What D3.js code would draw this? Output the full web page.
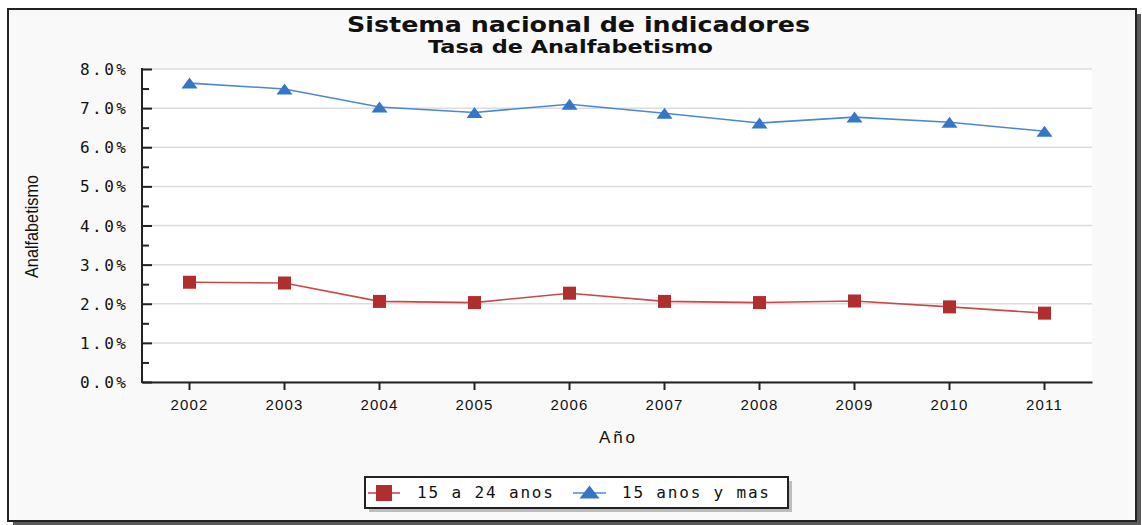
<!DOCTYPE html>
<html><head><meta charset="utf-8">
<script src="https://cdn.jsdelivr.net/npm/d3@7"></script>
<style>html,body{margin:0;padding:0;background:#fff;}svg{display:block;}</style>
</head><body>
<svg id="chart" width="1142" height="525"></svg>
<script>
const years = ["2002","2003","2004","2005","2006","2007","2008","2009","2010","2011"];
const youth = [2.55, 2.53, 2.06, 2.03, 2.27, 2.06, 2.03, 2.07, 1.92, 1.76];
const adults = [7.64, 7.49, 7.03, 6.89, 7.10, 6.87, 6.62, 6.77, 6.64, 6.41];
const yTicks = [0,1,2,3,4,5,6,7,8];
const seriesNames = ["15 a 24 anos", "15 anos y mas"];

const svg = d3.select("#chart");
const L = 142, R = 1092, T = 69, B = 382;

// frame + shadow
svg.append("rect").attr("x",13).attr("y",14).attr("width",1128).attr("height",512).attr("fill","#5a5a5a");
svg.append("rect").attr("x",8).attr("y",9).attr("width",1128).attr("height",512)
  .attr("fill","#f9f9f9").attr("stroke","#222").attr("stroke-width",2);

// title
svg.append("text").attr("x",578.5).attr("y",32).attr("text-anchor","middle")
  .attr("font-family","DejaVu Sans, Verdana, sans-serif").attr("font-weight","bold").attr("font-size",22)
  .attr("textLength",463).attr("lengthAdjust","spacingAndGlyphs").attr("fill","#111").text("Sistema nacional de indicadores");
svg.append("text").attr("x",570.5).attr("y",53).attr("text-anchor","middle")
  .attr("font-family","DejaVu Sans, Verdana, sans-serif").attr("font-weight","bold").attr("font-size",18)
  .attr("textLength",285).attr("lengthAdjust","spacingAndGlyphs").attr("fill","#111").text("Tasa de Analfabetismo");

const x = d3.scaleBand().domain(years).range([L,R]);
const y = d3.scaleLinear().domain([0,8]).range([B,T]);

// plot bg
svg.append("rect").attr("x",L).attr("y",T).attr("width",R-L).attr("height",B-T).attr("fill","#fff");

// grid
svg.append("g").selectAll("line").data(yTicks).join("line")
  .attr("x1",L).attr("x2",R).attr("y1",d=>y(d)).attr("y2",d=>y(d))
  .attr("stroke","#dcdcdc").attr("stroke-width",1.5);

// y axis
const yAxis = svg.append("g").attr("transform",`translate(${L},0)`)
  .call(d3.axisRight(y).tickValues(yTicks).tickSize(10).tickFormat(""));
yAxis.select(".domain").remove();
yAxis.selectAll("line").attr("stroke","#222").attr("stroke-width",2);
svg.append("g").attr("transform",`translate(${L},0)`)
  .call(d3.axisRight(y).tickValues(d3.range(0.5,8,1)).tickSize(7).tickFormat(""))
  .call(g=>g.select(".domain").remove())
  .selectAll("line").attr("stroke","#222").attr("stroke-width",2);
svg.append("line").attr("x1",L).attr("x2",L).attr("y1",T-1).attr("y2",B+1).attr("stroke","#222").attr("stroke-width",2);

svg.append("g").selectAll("text").data(yTicks).join("text")
  .attr("x",126).attr("y",d=>y(d)+6).attr("text-anchor","end")
  .attr("font-family","DejaVu Sans Mono, monospace").attr("font-size",16)
  .attr("textLength",46).attr("lengthAdjust","spacing").attr("fill","#111")
  .text(d=>d.toFixed(1)+"%");

// x axis
const xAxis = svg.append("g").attr("transform",`translate(0,${B})`)
  .call(d3.axisBottom(x).tickSize(8).tickSizeOuter(0).tickPadding(6));
xAxis.select(".domain").attr("stroke","#222").attr("stroke-width",2);
xAxis.selectAll(".tick line").attr("stroke","#222").attr("stroke-width",2);
xAxis.selectAll(".tick text").attr("font-family","Liberation Sans, Arial, sans-serif").attr("font-size",15)
  .attr("letter-spacing",1.2).attr("fill","#111").attr("dy","0.9em");

// axis titles
svg.append("text").attr("x",617).attr("y",443).attr("text-anchor","middle")
  .attr("font-family","Liberation Sans, Arial, sans-serif").attr("font-size",17)
  .attr("textLength",36).attr("lengthAdjust","spacing").attr("fill","#111").text("Año");
svg.append("text").attr("transform","translate(38,226.5) rotate(-90)").attr("text-anchor","middle")
  .attr("font-family","Liberation Sans Narrow, Liberation Sans, Arial, sans-serif").attr("font-size",19)
  .attr("textLength",103).attr("lengthAdjust","spacingAndGlyphs").attr("fill","#111").text("Analfabetismo");

// series
const cx = d => x(d) + x.bandwidth()/2;
const redLine = "#c84a48", redMark = "#b02e2e", blueLine = "#4a88d6", blueMark = "#3576c6";
const line = d3.line().x((d,i)=>cx(years[i])).y(d=>y(d));
svg.append("path").datum(youth).attr("d",line).attr("fill","none").attr("stroke",redLine).attr("stroke-width",1.6);
svg.append("path").datum(adults).attr("d",line).attr("fill","none").attr("stroke",blueLine).attr("stroke-width",1.6);

const sq = 13;
svg.append("g").selectAll("rect").data(youth).join("rect")
  .attr("x",(d,i)=>cx(years[i])-sq/2).attr("y",d=>y(d)-sq/2).attr("width",sq).attr("height",sq).attr("fill",redMark);
const tri = (px,py,w,h)=>`M${px-w/2},${py+h/2}L${px},${py-h/2}L${px+w/2},${py+h/2}Z`;
svg.append("g").selectAll("path").data(adults).join("path")
  .attr("d",(d,i)=>tri(cx(years[i]),y(d),16,11)).attr("fill",blueMark);

// legend
svg.append("rect").attr("x",369).attr("y",481).attr("width",423).attr("height",31).attr("fill","#bdbdbd");
svg.append("rect").attr("x",365).attr("y",477).attr("width",423).attr("height",31).attr("fill","#fff").attr("stroke","#222").attr("stroke-width",2);
const lg = [
  {name: seriesNames[0], x0:368, x1:400, tx:417, tl:136, color:redLine, mark:redMark, type:"sq"},
  {name: seriesNames[1], x0:573, x1:606, tx:622, tl:147, color:blueLine, mark:blueMark, type:"tri"}
];
const ly = 493;
lg.forEach(o=>{
  svg.append("line").attr("x1",o.x0).attr("x2",o.x1).attr("y1",ly).attr("y2",ly).attr("stroke",o.color).attr("stroke-width",1.6);
  const mx=(o.x0+o.x1)/2;
  if(o.type==="sq") svg.append("rect").attr("x",mx-8).attr("y",ly-8).attr("width",16).attr("height",16).attr("fill",o.mark);
  else svg.append("path").attr("d",tri(mx,ly-1,20,13)).attr("fill",o.mark);
  svg.append("text").attr("x",o.tx).attr("y",ly+5).attr("font-family","DejaVu Sans Mono, monospace").attr("font-size",16)
    .attr("textLength",o.tl).attr("lengthAdjust","spacing").attr("fill","#111").text(o.name);
});
</script>
</body></html>
